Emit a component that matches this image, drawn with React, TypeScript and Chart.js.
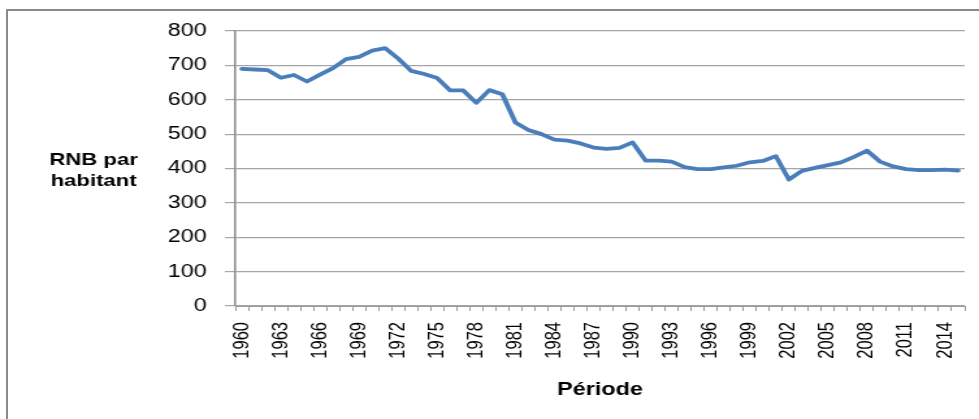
import React, { useEffect, useRef } from "react";
import { Chart, registerables } from "chart.js";

Chart.register(...registerables);

// ---- Data ----
const years: string[] = [
  "1960", "1961", "1962", "1963", "1964", "1965", "1966", "1967", "1968", "1969",
  "1970", "1971", "1972", "1973", "1974", "1975", "1976", "1977", "1978", "1979",
  "1980", "1981", "1982", "1983", "1984", "1985", "1986", "1987", "1988", "1989",
  "1990", "1991", "1992", "1993", "1994", "1995", "1996", "1997", "1998", "1999",
  "2000", "2001", "2002", "2003", "2004", "2005", "2006", "2007", "2008", "2009",
  "2010", "2011", "2012", "2013", "2014", "2015",
];

const rnbParHabitant: number[] = [
  690, 688, 686, 664, 672, 653, 673, 692, 718, 725,
  743, 750, 720, 684, 675, 663, 627, 627, 591, 628,
  616, 534, 512, 500, 484, 481, 473, 461, 457, 460,
  476, 423, 423, 420, 404, 398, 398, 403, 408, 418,
  422, 436, 368, 393, 402, 410, 418, 434, 452, 420,
  406, 398, 395, 395, 397, 394,
];

const yTitleLines: string[] = ["RNB par", "habitant"];
const xTitle = "Période";
const yMin = 0;
const yMax = 800;
const yStep = 100;
const labelEvery = 3;

// ---- Layout (source image is horizontally stretched) ----
const PAGE_W = 979;
const PAGE_H = 419;
const STRETCH = 1.3;
const CANVAS_W = Math.round(PAGE_W / STRETCH);

const FONT = '"Liberation Sans", Arial, sans-serif';

const yTitlePlugin = {
  id: "yTitleHorizontal",
  afterDraw(chart: any) {
    const ctx = chart.ctx as CanvasRenderingContext2D;
    const yScale = chart.scales.y;
    const midY = yScale.getPixelForValue(400);
    const cx = chart.chartArea.left - 109;
    ctx.save();
    ctx.font = `bold 17px ${FONT}`;
    ctx.fillStyle = "#000";
    ctx.textAlign = "center";
    ctx.textBaseline = "alphabetic";
    ctx.fillText(yTitleLines[0], cx, midY - 3.5);
    ctx.fillText(yTitleLines[1], cx, midY + 17.5);
    ctx.restore();
  },
};

export default function App() {
  const canvasRef = useRef<HTMLCanvasElement | null>(null);

  useEffect(() => {
    const canvas = canvasRef.current;
    if (!canvas) return;
    const chart = new Chart(canvas, {
      type: "line",
      data: {
        labels: years,
        datasets: [
          {
            data: rnbParHabitant,
            borderColor: "#4a7ebb",
            backgroundColor: "#4a7ebb",
            borderWidth: 3.8,
            pointRadius: 0,
            pointHoverRadius: 0,
            tension: 0,
            fill: false,
            borderJoinStyle: "round",
            borderCapStyle: "round",
          },
        ],
      },
      options: {
        responsive: false,
        animation: false,
        devicePixelRatio: 1,
        events: [],
        layout: { padding: { top: 31, right: 11, bottom: 0, left: 0 } },
        plugins: {
          legend: { display: false },
          tooltip: { enabled: false },
          title: { display: false },
        },
        scales: {
          x: {
            type: "category",
            offset: true,
            grid: {
              offset: true,
              drawOnChartArea: false,
              drawTicks: true,
              tickLength: 5,
              color: "#9a9a9a",
              lineWidth: 1,
            },
            border: { color: "#9a9a9a", width: 1 },
            ticks: {
              autoSkip: false,
              minRotation: 90,
              maxRotation: 90,
              padding: 11,
              color: "#000",
              font: { family: FONT, size: 16.5 },
              callback: (_v: any, i: number) => (i % labelEvery === 0 ? years[i] : ""),
            },
            title: {
              display: true,
              text: xTitle,
              color: "#000",
              font: { family: FONT, size: 18, weight: "bold" },
              padding: { top: 0, bottom: 18 },
            },
            afterFit: (s: any) => {
              s.height = 113;
              s.paddingLeft = 0;
              s.paddingRight = 0;
            },
          },
          y: {
            min: yMin,
            max: yMax,
            ticks: {
              stepSize: yStep,
              padding: 14,
              color: "#000",
              font: { family: FONT, size: 18 },
            },
            grid: { color: "#a6a6a6", lineWidth: 1.2, tickLength: 8 },
            border: { color: "#868686", width: 1.5 },
            afterFit: (s: any) => {
              s.width = 181;
            },
          },
        },
      },
      plugins: [yTitlePlugin],
    } as any);
    return () => chart.destroy();
  }, []);

  return (
    <div
      style={{
        position: "fixed",
        left: 0,
        top: 0,
        width: PAGE_W,
        height: PAGE_H,
        overflow: "hidden",
        background: "#fff",
      }}
    >
      <div
        style={{
          position: "absolute",
          left: 6,
          top: 9,
          width: 2000,
          height: 2000,
          border: "2px solid #8a8a8a",
        }}
      />
      <canvas
        ref={canvasRef}
        width={CANVAS_W}
        height={PAGE_H}
        style={{
          position: "absolute",
          left: 0,
          top: 0,
          width: PAGE_W + "px",
          height: PAGE_H + "px",
          display: "block",
        }}
      />
    </div>
  );
}
